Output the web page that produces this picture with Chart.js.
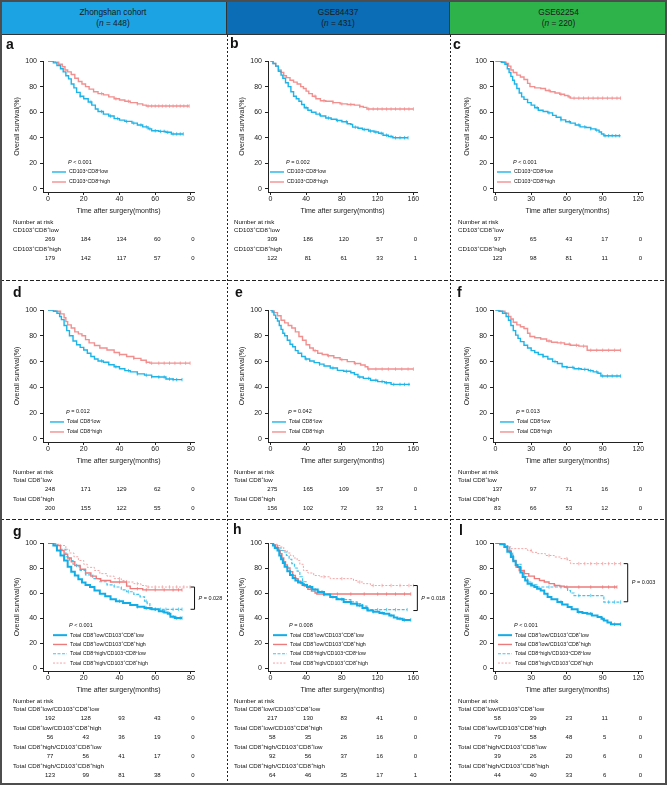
<!DOCTYPE html>
<html lang="en">
<head>
<meta charset="UTF-8">
<title>Survival by CD103+CD8+ and total CD8+ infiltration</title>
<script src="https://cdn.jsdelivr.net/npm/chart.js@4.4.1/dist/chart.umd.min.js"></script>
<style>
  body { margin: 0; background: #fff; font-family: "Liberation Sans", Arial, sans-serif; }
  #fig { position: relative; width: 667px; height: 785px; overflow: hidden; background: #fff; }
  .head { position: absolute; top: 0; height: 35px; box-sizing: border-box; text-align: center;
          font-size: 8.3px; line-height: 11px; padding-top: 7px; color: #1a1a1a;
          border-bottom: 1px solid #333; border-right: 1px solid #333; }
  .hdash { position: absolute; left: 0; width: 667px; height: 1px;
           background: repeating-linear-gradient(to right, #222 0 4px, transparent 4px 6px); }
  .vdash { position: absolute; top: 35px; width: 1px; height: 750px;
           background: repeating-linear-gradient(to bottom, #222 0 2px, transparent 2px 4px); }
  canvas { position: absolute; }
  #frame { position: absolute; left: 0; top: 0; width: 667px; height: 785px; box-sizing: border-box;
           border: 2px solid #4d4d4d; pointer-events: none; }
</style>
</head>
<body>
<div id="fig">
  <div class="head" style="left:0;width:227px;background:#1ba3e3">Zhongshan cohort<br>(<i>n</i> = 448)</div>
  <div class="head" style="left:227px;width:223px;background:#0a6db5">GSE84437<br>(<i>n</i> = 431)</div>
  <div class="head" style="left:450px;width:217px;background:#2db34a;border-right:none">GSE62254<br>(<i>n</i> = 220)</div>
  <div class="hdash" style="top:280px"></div>
  <div class="hdash" style="top:519px"></div>
  <div class="vdash" style="left:227px"></div>
  <div class="vdash" style="left:450px"></div>
  <div id="frame"></div>
</div>
<script>
const FONT = '"Liberation Sans", Arial, sans-serif';

// x tick sets
const ticks80 = [0, 20, 40, 60, 80];
const ticks160 = [0, 40, 80, 120, 160];
const ticks120 = [0, 30, 60, 90, 120];
const yTicks = [0, 20, 40, 60, 80, 100];

// legend / risk labels ('^' = superscript next char)
const cd103Labels = ['CD103^+CD8^+low', 'CD103^+CD8^+high'];
const totalLabels = ['Total CD8^+low', 'Total CD8^+high'];
const comboLabels = ['Total CD8^+low/CD103^+CD8^+low', 'Total CD8^+low/CD103^+CD8^+high',
                     'Total CD8^+high/CD103^+CD8^+low', 'Total CD8^+high/CD103^+CD8^+high'];

// Kaplan-Meier curves: [month, survival %]
const aLow = [[0,100],[3,98.5],[5,96.5],[7,94],[8.5,91.5],[10,88.5],[11.5,86],[13,82],[14.5,79],[16,75.5],[18,72.5],[20,70.5],[22.5,68],[24.5,65.5],[26.5,62.5],[28,60.5],[31,58.5],[34,57],[37,55],[40,53.8],[43,52.8],[47,51.5],[50,50],[53,48.5],[56,47],[58,45.5],[62,45],[66,44.3],[69,43],[75.7,43]];
const aHigh = [[0,100],[4,99],[6,97.5],[8,95.5],[9.5,93],[11,91.5],[13,89.5],[15,86.5],[17,84],[19,82],[21,80],[23,78],[25.5,76],[28,74.5],[31,73.5],[34,72],[37,70.5],[40,69.5],[43,68.5],[46,67.5],[50,66.5],[53,65.5],[55,64.8],[79,64.8]];
const bLow = [[0,100],[3,98],[6,96],[9,92],[12,89],[14,86.5],[17,83],[20,80],[23,76],[26,72.5],[29,70.5],[32,68.5],[35,66],[38,63.5],[42,61.5],[46,60],[51,58.5],[56,57],[62,55.5],[68,54.5],[74,53.5],[80,52.5],[86,51],[90,50.5],[92,48.3],[98,47.5],[103,46.5],[110,45.3],[116,44.5],[121,43.5],[126,42],[132,41],[137,40],[154,40]];
const bHigh = [[0,100],[3,98],[6,96],[9,93],[12,91],[15,88.5],[18,87],[22,85],[26,83.5],[30,82],[34,80],[37,78.5],[40,76.5],[43,74.5],[47,72.5],[51,70.5],[56,69],[62,68.5],[70,67.5],[78,66.5],[86,66],[94,65.5],[100,64.5],[104,63.8],[108,62.5],[160,62.5]];
const cLow = [[0,100],[5,99],[8,97.5],[10,94],[11.5,91],[13,88],[14.5,85],[16,82],[18,78.5],[20,75],[22,72],[24,70],[27,67.5],[30,65.5],[33,63.5],[36,61.5],[40,60.5],[44,59.5],[48,57.5],[51,56],[55,54],[59,52.5],[63,51.5],[67,50],[71,48.5],[76,48],[80,47],[84,46],[87,44.5],[89,43],[91,41.6],[105,41.6]];
const cHigh = [[0,100],[6,99],[9,98],[11,96],[13,93],[15,91],[18,89],[21,87.5],[24,85.5],[27,82.5],[29,80],[33,79],[38,78.5],[42,77],[46,76],[50,75],[54,74],[58,73],[61,72],[63,71],[105,71]];
const dLow = [[0,100],[3,99],[5,97.5],[6.5,95],[7.5,92.5],[9,88],[10.5,84],[12,80],[14,76],[16,73],[18,71],[20,69],[22,66.5],[24,64],[26,62],[28,60.5],[31,59.5],[34,57.5],[37,56],[40,54.5],[43,53],[46,52],[50,50.5],[54,49.5],[58,48.3],[62,48],[66,46.5],[70,46],[75,46]];
const dHigh = [[0,100],[4,99],[7,97],[9,94],[10,91],[11,88.5],[13,86],[15,83],[17,81.5],[19,80],[21,77],[23,74.5],[26,72.5],[29,70.5],[33,69],[37,67],[40,65.5],[44,64],[48,62.5],[52,61],[55,59.5],[57,58.8],[79.5,58.8]];
const eLow = [[0,100],[2,98.5],[4,96],[6,93.5],[8,91.5],[10,88],[12,85],[14,82],[16,80],[19,76.5],[22,73.5],[25,71.5],[28,68.5],[31,66.5],[35,64],[39,62],[44,60.5],[49,59.2],[55,58],[60,56.6],[67,55],[75,53.2],[82,52.5],[90,51.4],[94,50],[98,48],[104,47],[112,45.5],[120,44.5],[128,43.6],[135,42.3],[156,42.3]];
const eHigh = [[0,100],[4,98],[8,95.5],[12,92],[16,90],[20,88],[24,86],[28,83],[32,79.5],[36,76.5],[40,73],[44,70.5],[48,68.5],[53,66.5],[58,65.5],[64,64.5],[71,63],[78,61.5],[86,60],[94,58.5],[101,57.4],[106,56],[109,54.2],[160,54.2]];
const fLow = [[0,100],[3,99],[6,97.5],[9,95],[11,92],[13,88],[15,84],[17,80.5],[19,78],[21,75.5],[24,72.7],[27,70.5],[30,68.5],[33,67],[36,65.5],[40,64],[44,62],[48,60],[52,58.5],[56,56],[60,55.5],[66,54.5],[72,54],[78,53],[82,52],[86,51],[88.5,48.8],[105,48.8]];
const fHigh = [[0,100],[4,99],[8,97.5],[11,95],[13,93],[15,90.5],[18,88.5],[21,87],[24,85.7],[27,82],[29,79.5],[33,78.5],[38,77.5],[43,76],[47,75],[52,74.5],[58,73.5],[63,72.7],[70,72],[77,68.8],[105,68.8]];
const gLL = [[0,100],[3,98],[5,94],[7,90],[9,86],[11,81],[13,77],[15,74],[17,71],[19,68.5],[21,66.5],[23.5,64.8],[26,62],[29,59.5],[32,57.5],[35,55],[38,53.5],[42,52],[46,50.5],[50,49],[54,48],[58,47],[62,45.5],[65,44.5],[67,43.5],[68.5,41],[71,40],[75,40]];
const gLH = [[0,100],[4,98],[7,94],[9,91],[11,88],[13,85],[15,82],[18,79],[21,76],[24,73.5],[27,71.5],[29.5,70],[35,68.8],[44,65.5],[46,63.5],[53,62.5],[75,62.5]];
const gHL = [[0,100],[4,98],[7,95],[10,89],[12,86],[14,83],[16,81],[18,78],[21,74.5],[25,71.5],[29,69],[33,66.5],[37,64.8],[41,62.5],[44,61],[48,59],[51.5,57],[54,53.5],[55.5,51.5],[57,47],[75,47]];
const gHH = [[0,100],[5,99],[7,98],[10,95],[12,92],[14.5,89],[17,86],[20,83],[22,80.5],[26,78],[29,75.5],[33,73.5],[37,71.5],[41,70],[44,68.8],[48,67.5],[52,66],[55,64.8],[79.5,64.8]];
const hLL = [[0,100],[3,98],[5,96],[8,94],[10,90],[12,87],[14,84],[16,81],[19,77.5],[22,74.5],[25,72],[28,70],[31,68.5],[36,66.5],[41,64.8],[47,62.8],[53,60.8],[60,58.8],[67,56.8],[74,55],[82,52.8],[90,51.5],[97,50],[103,48],[108.6,46],[115,45],[122,44],[127,43.5],[133,42],[138,40.5],[142,39.5],[148,38.5],[157,38.5]];
const hLH = [[0,100],[3,98.5],[6,96.5],[9,94],[11,91.5],[13,88],[15,85],[17,82.5],[19,80],[22,77],[25,74],[28,71.5],[31,69.5],[34,67.5],[38,65.5],[42,63],[46,61.5],[50,60],[52,59.2],[157,59.2]];
const hHL = [[0,100],[4,98],[8,96],[12,94],[15,92.8],[18,90],[21,87],[24,83.5],[27,80],[30,77.5],[33,73],[36,69],[40,66],[45,63.5],[50,61.5],[58,59],[67,56.8],[75,55.5],[82,54.7],[90,53],[97,51.5],[103,49.5],[108,46.7],[153,46.7]];
const hHH = [[0,100],[4,99],[8,98],[11,96.8],[15,94],[19,92],[22.4,90],[26,88],[30,86],[33,83],[37,78],[42,76],[48.5,74],[55,73],[67,71.5],[89.5,71.5],[93,70],[97,68.8],[104,67.5],[112,66],[160,66]];
const iLL = [[0,100],[4,99],[7.5,96.8],[10,93],[13,88.8],[15,85.5],[17,82.5],[18.7,80.8],[21,76.5],[22.9,72.8],[25,70],[27,67.5],[30,66],[32.7,64.8],[35,63.5],[38,62],[41,59.5],[43.8,56.8],[47,55],[52,52.8],[56,50.8],[60.6,48.8],[64,47],[69,44.8],[73,44],[77,43.5],[81,42],[85.7,40.8],[89,39.5],[91,38],[94,36.5],[97,35],[105,35]];
const iLH = [[0,100],[5,99],[8,97],[10.3,94],[13,90],[15,86],[17.3,80.8],[20,78],[24.3,75.5],[28,73.5],[32.7,71.5],[37,70],[41,68.8],[45,67.5],[49.4,66],[54,65.5],[57.8,64.8],[102,64.8]];
const iHL = [[0,100],[5,99],[8,98],[10.3,96.8],[12,92],[14.5,86],[17,83],[21.5,78],[24,73],[27,68.8],[31,66.5],[35.4,64.8],[58,64.8],[60.6,62],[63,60],[66,58],[88,58],[91,52.8],[105,52.8]];
const iHH = [[0,100],[6,98.5],[10,97],[13,95.5],[27,94],[31,92.5],[35.4,91.5],[42,90],[49.4,88.8],[55,87.5],[60.6,86],[63,83.5],[105,83.5]];

// censoring times (months)
const aLowCens = [18,24,30,35,39,44,48,52,55,57,60,63,65,67,70,72,74,75.7];
const aHighCens = [30,38,45,50,56,58,60,62,64,66,68,70,72,74,76,78,79];
const bLowCens = [40,55,65,75,85,95,105,112,118,124,130,135,140,145,150,154];
const bHighCens = [50,60,70,80,90,100,110,115,120,125,130,135,140,145,150,155,160];
const cLowCens = [35,45,55,62,70,75,80,85,92,95,98,101,104];
const cHighCens = [45,55,62,66,70,74,78,82,86,90,94,98,102,105];
const dLowCens = [30,38,45,50,55,58,62,65,68,70,72,75];
const dHighCens = [40,48,55,58,62,65,68,71,74,77,79.5];
const eLowCens = [40,55,70,85,100,110,118,125,130,138,145,150,155];
const eHighCens = [50,65,80,95,110,118,125,132,140,147,154,160];
const fLowCens = [40,50,60,65,70,75,80,85,90,94,98,102,105];
const fHighCens = [45,55,62,68,74,80,85,90,95,100,105];
const gLLCens = [40,50,55,60,64,68,70,72,74,75];
const gLHCens = [40,50,55,60,65,70,73,75];
const gHLCens = [45,55,60,63,66,70,73,75];
const gHHCens = [40,50,56,60,64,68,72,76,79.5];
const hLLCens = [60,80,100,115,125,135,145,150,157];
const hLHCens = [60,75,90,105,120,130,140,150,157];
const hHLCens = [70,90,110,120,130,140,153];
const hHHCens = [60,80,100,115,125,135,145,155,160];
const iLLCens = [55,70,80,90,100,105];
const iLHCens = [50,60,70,80,90,95,100,102];
const iHLCens = [45,55,70,80,95,100,105];
const iHHCens = [30,45,60,70,75,80,85,90,95,100,105];

// number at risk, at each x tick
const aRisk1 = [269,184,134,60,0], aRisk2 = [179,142,117,57,0];
const bRisk1 = [309,186,120,57,0], bRisk2 = [122,81,61,33,1];
const cRisk1 = [97,65,43,17,0],    cRisk2 = [123,98,81,11,0];
const dRisk1 = [248,171,129,62,0], dRisk2 = [200,155,122,55,0];
const eRisk1 = [275,165,109,57,0], eRisk2 = [156,102,72,33,1];
const fRisk1 = [137,97,71,16,0],   fRisk2 = [83,66,53,12,0];
const gRisk1 = [192,128,93,43,0], gRisk2 = [56,43,36,19,0], gRisk3 = [77,56,41,17,0], gRisk4 = [123,99,81,38,0];
const hRisk1 = [217,130,83,41,0], hRisk2 = [58,35,26,16,0], hRisk3 = [92,56,37,16,0], hRisk4 = [64,46,35,17,1];
const iRisk1 = [58,39,23,11,0],   iRisk2 = [79,58,48,5,0],  iRisk3 = [39,26,20,6,0],  iRisk4 = [44,40,33,6,0];

// line styles
const style2 = [
  { color: '#1db4e8', width: 1.4, dash: [] },
  { color: '#f29090', width: 1.4, dash: [] }
];
const style4 = [
  { color: '#12ade6', width: 2, dash: [] },
  { color: '#ee7b7b', width: 1.4, dash: [] },
  { color: '#45c4ee', width: 1.2, dash: [3, 1.5] },
  { color: '#f4a5a5', width: 1, dash: [2, 1.5] }
];

// page grid
const colX = [0, 227, 450], colW = [227, 223, 217];
const rowY = [35, 280, 519], rowH = [245, 239, 266];
const plotL = [43, 268, 493], plotR = [194, 417, 642];
const plotT = [61, 310, 543], plotB = [192, 442, 671];
const riskX = [13, 7, 8];

const panels = [
  { letter: 'a', col: 0, row: 0, letterAt: [6, 14], xt: ticks80, xMin: -2.8, xMax: 81.7, curves: [aLow, aHigh], cens: [aLowCens, aHighCens], labels: cd103Labels, risk: [aRisk1, aRisk2], p: '< 0.001', legendX: 9 },
  { letter: 'b', col: 1, row: 0, letterAt: [3, 13], xt: ticks160, xMin: -2.6, xMax: 164, curves: [bLow, bHigh], cens: [bLowCens, bHighCens], labels: cd103Labels, risk: [bRisk1, bRisk2], p: '= 0.002', legendX: 2 },
  { letter: 'c', col: 2, row: 0, letterAt: [3, 14], xt: ticks120, xMin: -2, xMax: 123, curves: [cLow, cHigh], cens: [cLowCens, cHighCens], labels: cd103Labels, risk: [cRisk1, cRisk2], p: '< 0.001', legendX: 4 },
  { letter: 'd', col: 0, row: 1, letterAt: [13, 17], xt: ticks80, xMin: -2.8, xMax: 81.7, curves: [dLow, dHigh], cens: [dLowCens, dHighCens], labels: totalLabels, risk: [dRisk1, dRisk2], p: '= 0.012', legendX: 7 },
  { letter: 'e', col: 1, row: 1, letterAt: [8, 17], xt: ticks160, xMin: -2.6, xMax: 164, curves: [eLow, eHigh], cens: [eLowCens, eHighCens], labels: totalLabels, risk: [eRisk1, eRisk2], p: '= 0.042', legendX: 4 },
  { letter: 'f', col: 2, row: 1, letterAt: [7, 17], xt: ticks120, xMin: -2, xMax: 123, curves: [fLow, fHigh], cens: [fLowCens, fHighCens], labels: totalLabels, risk: [fRisk1, fRisk2], p: '= 0.013', legendX: 7 },
  { letter: 'g', col: 0, row: 2, letterAt: [13, 17], xt: ticks80, xMin: -2.8, xMax: 81.7, curves: [gLL, gLH, gHL, gHH], cens: [gLLCens, gLHCens, gHLCens, gHHCens], labels: comboLabels, risk: [gRisk1, gRisk2, gRisk3, gRisk4], p: '< 0.001', legendX: 10, bracket: { x: 82, y1: 64.8, y2: 47, text: '= 0.028' } },
  { letter: 'h', col: 1, row: 2, letterAt: [6, 15], xt: ticks160, xMin: -2.6, xMax: 164, curves: [hLL, hLH, hHL, hHH], cens: [hLLCens, hLHCens, hHLCens, hHHCens], labels: comboLabels, risk: [hRisk1, hRisk2, hRisk3, hRisk4], p: '= 0.008', legendX: 5, bracket: { x: 164.4, y1: 66, y2: 46, text: '= 0.018' } },
  { letter: 'l', col: 2, row: 2, letterAt: [9, 16], xt: ticks120, xMin: -2, xMax: 123, curves: [iLL, iLH, iHL, iHH], cens: [iLLCens, iLHCens, iHLCens, iHHCens], labels: comboLabels, risk: [iRisk1, iRisk2, iRisk3, iRisk4], p: '< 0.001', legendX: 5, bracket: { x: 111, y1: 83.5, y2: 53, text: '= 0.003' } }
];

// survival value of a step curve at time t
function survAt(curve, t) {
  let s = curve[0][1];
  for (const [ti, si] of curve) { if (ti <= t) s = si; }
  return s;
}

// text with '^' superscript and '_' italic markers
function drawRich(ctx, str, x, y, size, align) {
  const segs = [];
  for (let i = 0; i < str.length; i++) {
    const c = str[i];
    if ((c === '^' || c === '_') && i + 1 < str.length) {
      segs.push({ t: str[i + 1], kind: c === '^' ? 'sup' : 'ital' });
      i++;
    } else if (segs.length && segs[segs.length - 1].kind === 'norm') {
      segs[segs.length - 1].t += c;
    } else {
      segs.push({ t: c, kind: 'norm' });
    }
  }
  const fontOf = k => k === 'sup' ? (size * 0.65).toFixed(2) + 'px ' + FONT
    : (k === 'ital' ? 'italic ' : '') + size + 'px ' + FONT;
  let w = 0;
  segs.forEach(s => { ctx.font = fontOf(s.kind); s.w = ctx.measureText(s.t).width; w += s.w; });
  let cx = align === 'center' ? x - w / 2 : x;
  ctx.textAlign = 'left';
  ctx.textBaseline = 'middle';
  segs.forEach(s => {
    ctx.font = fontOf(s.kind);
    ctx.fillText(s.t, cx, s.kind === 'sup' ? y - size * 0.38 : y);
    cx += s.w;
  });
}

const panelDecor = {
  id: 'panelDecor',
  afterDraw(chart, args, p) {
    const ctx = chart.ctx, xs = chart.scales.x, ys = chart.scales.y, area = chart.chartArea;
    const n = p.labels.length;
    ctx.save();
    ctx.fillStyle = '#111';

    // panel letter
    ctx.font = 'bold 14px ' + FONT;
    ctx.textAlign = 'left';
    ctx.textBaseline = 'alphabetic';
    ctx.fillText(p.letter, p.letterAt[0], p.letterAt[1]);

    // legend with P value
    const y0 = ys.getPixelForValue(0);
    const step = n > 2 ? 9.3 : 10;
    const lx = area.left + p.legendX;
    const firstY = y0 - (n > 2 ? 5 : 7) - (n - 1) * step;
    drawRich(ctx, '_P ' + p.p, lx + 16, firstY - 10, 5.5);
    chart.data.datasets.slice(0, n).forEach((ds, i) => {
      const ly = firstY + i * step;
      ctx.strokeStyle = ds.borderColor;
      ctx.lineWidth = ds.borderWidth;
      ctx.setLineDash(ds.borderDash || []);
      ctx.beginPath();
      ctx.moveTo(lx, ly);
      ctx.lineTo(lx + 14, ly);
      ctx.stroke();
      ctx.setLineDash([]);
      drawRich(ctx, p.labels[i], lx + 17, ly, 5.3);
    });

    // bracket between the two Total CD8 high curves
    if (p.bracket) {
      const bx = xs.getPixelForValue(p.bracket.x);
      const b1 = ys.getPixelForValue(p.bracket.y1), b2 = ys.getPixelForValue(p.bracket.y2);
      ctx.strokeStyle = '#111';
      ctx.lineWidth = 1;
      ctx.beginPath();
      ctx.moveTo(bx - 4, b1); ctx.lineTo(bx, b1); ctx.lineTo(bx, b2); ctx.lineTo(bx - 4, b2);
      ctx.stroke();
      drawRich(ctx, '_P ' + p.bracket.text, bx + 4, (b1 + b2) / 2, 5.5);
    }

    // number at risk table, aligned on the x ticks
    const base = area.bottom;
    const rstep = n > 2 ? 18.8 : 18.5;
    drawRich(ctx, 'Number at risk', p.riskX, base + 30, 6.2);
    p.risk.forEach((vals, i) => {
      drawRich(ctx, p.labels[i], p.riskX, base + 38.5 + i * rstep, 6.2);
      vals.forEach((v, j) => {
        drawRich(ctx, String(v), xs.getPixelForValue(p.xt[j]) + 2, base + 47.5 + i * rstep, 6, 'center');
      });
    });
    ctx.restore();
  }
};

const fig = document.getElementById('fig');
const frame = document.getElementById('frame');

panels.forEach(p => {
  const cx = colX[p.col], cy = rowY[p.row], cw = colW[p.col], ch = rowH[p.row];
  const yW = 30, xH = 23;
  const canvas = document.createElement('canvas');
  canvas.width = cw;
  canvas.height = ch;
  canvas.style.left = cx + 'px';
  canvas.style.top = cy + 'px';
  fig.insertBefore(canvas, frame);

  const styles = p.curves.length > 2 ? style4 : style2;
  const datasets = p.curves.map((c, i) => ({
    data: c.map(([t, s]) => ({ x: t, y: s })),
    borderColor: styles[i].color,
    borderWidth: styles[i].width,
    borderDash: styles[i].dash,
    stepped: 'before',
    pointRadius: 0,
    fill: false
  }));
  p.cens.forEach((ct, i) => {
    datasets.push({
      data: ct.map(t => ({ x: t, y: survAt(p.curves[i], t) })),
      showLine: false,
      borderColor: styles[i].color,
      backgroundColor: styles[i].color,
      pointStyle: 'line',
      pointRotation: 90,
      pointRadius: 1.7,
      pointBorderWidth: 0.8
    });
  });

  const axisFont = { family: FONT, size: 7 };
  new Chart(canvas, {
    type: 'line',
    data: { datasets },
    plugins: [panelDecor],
    options: {
      responsive: false,
      animation: false,
      events: [],
      layout: {
        padding: {
          left: plotL[p.col] - cx - yW,
          right: cx + cw - plotR[p.col],
          top: plotT[p.row] - cy,
          bottom: cy + ch - plotB[p.row] - xH
        }
      },
      plugins: {
        legend: { display: false },
        tooltip: { enabled: false },
        panelDecor: {
          letter: p.letter, letterAt: p.letterAt, labels: p.labels, risk: p.risk,
          xt: p.xt, p: p.p, legendX: p.legendX, bracket: p.bracket, riskX: riskX[p.col]
        }
      },
      scales: {
        x: {
          type: 'linear',
          min: p.xMin,
          max: p.xMax,
          afterBuildTicks: s => { s.ticks = p.xt.map(v => ({ value: v })); },
          afterFit: s => { s.height = xH; },
          grid: { drawOnChartArea: false, drawTicks: true, tickLength: 3, color: '#222' },
          border: { display: true, color: '#222', width: 1 },
          ticks: { font: axisFont, color: '#222', padding: 0, maxRotation: 0, autoSkip: false },
          title: { display: true, text: 'Time after surgery(months)', font: axisFont, color: '#222', padding: 0 }
        },
        y: {
          min: -2.35,
          max: 100,
          afterBuildTicks: s => { s.ticks = yTicks.map(v => ({ value: v })); },
          afterFit: s => { s.width = yW; },
          grid: { drawOnChartArea: false, drawTicks: true, tickLength: 3, color: '#222' },
          border: { display: true, color: '#222', width: 1 },
          ticks: { font: axisFont, color: '#222', padding: 3 },
          title: { display: true, text: 'Overall survival(%)', font: axisFont, color: '#222', padding: 0 }
        }
      }
    }
  });
});
</script>
</body>
</html>
